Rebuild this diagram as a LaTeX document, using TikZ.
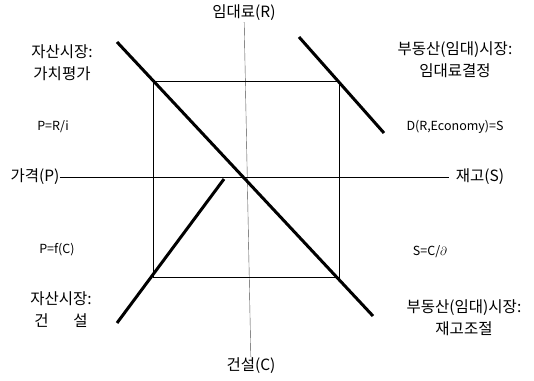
\documentclass[tikz,border=0pt]{standalone}
\usepackage{fontspec}
\setmainfont{Noto Sans CJK KR}
\begin{document}
\begin{tikzpicture}[x=1pt, y=-1pt, font=\fontsize{15.5}{22}\selectfont,
    small/.style={font=\fontsize{12.5}{14}\selectfont},
    market/.style={align=center, inner sep=1pt},
    curve/.style={line width=3pt}]
    \useasboundingbox (0,0) rectangle (534,380);
    % axes
    \node[inner sep=1pt] (R) at (244,13) {임대료(R)};
    \node[inner sep=1pt] (C) at (251,366) {건설(C)};
    \node[inner sep=0pt] (P) at (35,177) {가격(P)};
    \node[inner sep=1pt] (S) at (480,177) {재고(S)};
    \draw[black!70, thin] (R) -- (C);
    \draw[thin, shorten >=6pt] (P) -- (S);

    \draw[thin] (153,81) rectangle (339,277);

    \draw[curve] (117,42) -- (373,316);
    \draw[curve] (299,37) -- (384,133);
    \draw[curve] (117,323) -- (224,179);

    \node[market] (value) at (62,63) {자산시장:\\가치평가};
    \node[small] (pri) at (53,127) {P=R/i};
    \node[market] (rent) at (455,60) {부동산(임대)시장:\\임대료결정};
    \node[small] (dem) at (455,127) {D(R,Economy)=S};
    \node[small] (pfc) at (57,250) {P=f(C)};
    \node[market] (cons) at (61,310) {자산시장:\\건\hspace{1.6em}설};
    \node[small] (scd) at (430,252) {S=C/$\partial$};
    \node[market] (stock) at (464,318) {부동산(임대)시장:\\재고조절};
\end{tikzpicture}
\end{document}
